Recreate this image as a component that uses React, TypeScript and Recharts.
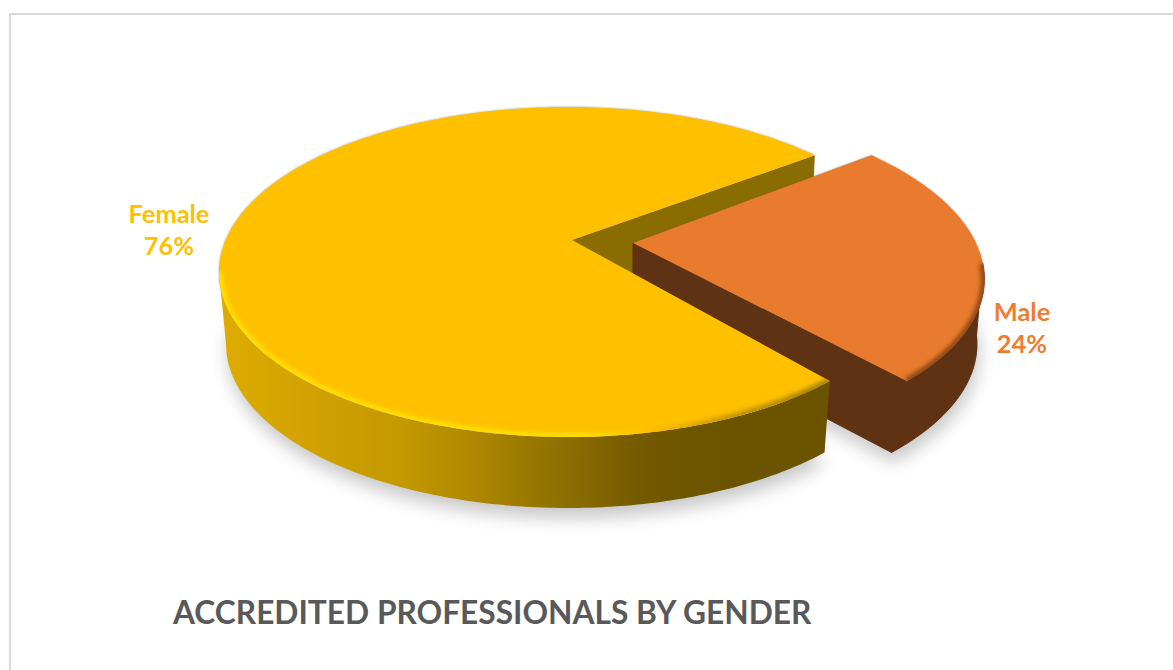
import { PieChart, Pie } from "recharts";

const categories = ["Female", "Male"];
const shares = [76, 24];
const chartData = categories.map((name, i) => ({ name, value: shares[i] }));

const TITLE = "ACCREDITED PROFESSIONALS BY GENDER";

// squashed 3d look: Pie gives the angles, we project them on an ellipse
const CX = 568;
const CY = 272;
const RX = 349;
const RY = 165;
const BOTTOM_RX = 342;
const BOTTOM_RY = 164;
const BOTTOM_DY = 72;
const MALE_SHIFT = 67;
const MALE_SHEAR = 0.09;

// walk along the rim one degree at a time
function trace(fn: (deg: number) => number[], from: number, to: number) {
  const steps = Math.max(1, Math.ceil(Math.abs(to - from)));
  const parts: string[] = [];
  for (let i = 0; i <= steps; i++) {
    const p = fn(from + ((to - from) * i) / steps);
    parts.push(`${p[0]} ${p[1]}`);
  }
  return parts.join(" L ");
}

function sliceGeometry(props: any) {
  const isMale = props.name === "Male";
  const cx = props.cx + (isMale ? MALE_SHIFT : 0);
  const cy = props.cy;
  const start = props.startAngle;
  const end = props.endAngle;
  const shear = isMale ? MALE_SHEAR : 0;
  const apex = isMale ? [cx - 2, cy - 29] : [cx + 4, cy - 32];
  const top = (deg: number) => {
    const a = (deg * Math.PI) / 180;
    return [cx + RX * Math.cos(a) - shear * RY * Math.sin(a), cy - RY * Math.sin(a)];
  };
  const bot = (deg: number) => {
    const a = (deg * Math.PI) / 180;
    return [cx + BOTTOM_RX * Math.cos(a), cy + BOTTOM_DY - BOTTOM_RY * Math.sin(a)];
  };
  const topPath = `M ${apex} L ${trace(top, start, end)} Z`;
  // only the part of the wall that faces the viewer
  const sideFrom = isMale ? 363 : 180;
  const sideTo = isMale ? start : end;
  const sidePath = `M ${trace(top, sideFrom, sideTo)} L ${trace(bot, sideTo, sideFrom)} Z`;
  const rimPath = `M ${trace(top, sideFrom, sideTo)}`;
  const basePath = `M ${apex[0]} ${apex[1] + 74} L ${trace(bot, start, end)} Z`;
  return {
    isMale,
    apex,
    s: top(start),
    e: top(end),
    baseStart: bot(start),
    topPath,
    sidePath,
    rimPath,
    basePath,
  };
}

function BackLayer(props: any) {
  const g = sliceGeometry(props);
  return (
    <g>
      <path d={g.basePath} fill="#000" opacity={0.22} filter="url(#softShadow)" transform="translate(2 10)" />
      <path d={g.topPath} fill="#555" opacity={0.5} filter="url(#rimShadow)" />
      {!g.isMale && (
        <path
          d={`M ${g.apex} L ${g.s} L ${g.s[0] - 3} ${g.s[1] + 72} L ${g.apex[0]} ${g.apex[1] + 72} Z`}
          fill="#8A6D00"
        />
      )}
    </g>
  );
}

function FaceLayer(props: any) {
  const g = sliceGeometry(props);
  const clipId = g.isMale ? "clipMale" : "clipFemale";
  return (
    <g>
      <defs>
        <clipPath id={clipId}>
          <path d={g.topPath} />
        </clipPath>
      </defs>
      {g.isMale && (
        <path
          d={`M ${g.apex} L ${g.s} L ${g.baseStart} L ${g.apex[0]} ${g.apex[1] + 74} Z`}
          fill="#5F3213"
          stroke="#5F3213"
          strokeWidth={1}
        />
      )}
      <path
        d={g.sidePath}
        fill={g.isMale ? "#5F3213" : "url(#femaleSide)"}
        stroke={g.isMale ? "#5F3213" : "none"}
        strokeWidth={1}
      />
      <path d={g.topPath} fill={g.isMale ? "#E87B2E" : "#FFC000"} />
      <g clipPath={`url(#${clipId})`}>
        <path
          d={g.rimPath}
          fill="none"
          stroke={g.isMale ? "#8A4617" : "url(#femaleRim)"}
          strokeWidth={g.isMale ? 7 : 8}
          filter="url(#rimBlur)"
        />
      </g>
    </g>
  );
}

function renderBack(props: any) {
  return <BackLayer {...props} />;
}

// female wall behind the male slice, female front over it
function renderMale(props: any) {
  return props.name === "Male" ? <FaceLayer {...props} /> : <g />;
}

function renderFemale(props: any) {
  return props.name === "Female" ? <FaceLayer {...props} /> : <g />;
}

function renderLabel(props: any) {
  const isMale = props.name === "Male";
  const x = isMale ? props.cx + MALE_SHIFT + RX + 38 : props.cx - RX - 50;
  const y = isMale ? 321 : 223;
  return (
    <text
      x={x}
      y={y}
      textAnchor="middle"
      fill={isMale ? "#ED7D31" : "#FFC000"}
      fontFamily="Lato"
      fontWeight={700}
      fontSize={25.4}
    >
      <tspan x={x}>{props.name}</tspan>
      <tspan x={x} dy={32}>
        {props.value}%
      </tspan>
    </text>
  );
}

const pieProps = {
  data: chartData,
  dataKey: "value",
  nameKey: "name",
  cx: CX,
  cy: CY,
  outerRadius: RX,
  startAngle: 45,
  endAngle: 405,
  paddingAngle: 0,
  stroke: "none",
  isAnimationActive: false,
};

export default function App() {
  return (
    <div style={{ position: "fixed", left: 0, top: 0, width: 1173, height: 670, background: "#fff", overflow: "hidden" }}>
      <div
        style={{
          position: "absolute",
          left: 9,
          top: 13,
          width: 1200,
          height: 700,
          border: "2px solid #D9D9D9",
        }}
      />
      <div style={{ position: "absolute", left: 0, top: 0 }}>
        <PieChart width={1173} height={670} margin={{ top: 0, right: 0, bottom: 0, left: 0 }}>
          <defs>
            <linearGradient id="femaleSide" gradientUnits="userSpaceOnUse" x1={226} y1={0} x2={830} y2={0}>
              <stop offset="0%" stopColor="#DDAB00" />
              <stop offset="29%" stopColor="#C49900" />
              <stop offset="44%" stopColor="#A88300" />
              <stop offset="55%" stopColor="#8F7000" />
              <stop offset="69%" stopColor="#735900" />
              <stop offset="82%" stopColor="#6B5300" />
              <stop offset="100%" stopColor="#6B5300" />
            </linearGradient>
            <linearGradient id="femaleRim" gradientUnits="userSpaceOnUse" x1={219} y1={0} x2={830} y2={0}>
              <stop offset="0%" stopColor="#FFE000" />
              <stop offset="60%" stopColor="#FFE000" />
              <stop offset="70%" stopColor="#FFC000" />
              <stop offset="85%" stopColor="#C09200" />
              <stop offset="100%" stopColor="#A88200" />
            </linearGradient>
            <filter id="softShadow" x="-10%" y="-10%" width="120%" height="120%">
              <feGaussianBlur stdDeviation="9" />
            </filter>
            <filter id="rimShadow" x="-5%" y="-5%" width="110%" height="110%">
              <feGaussianBlur stdDeviation="1" />
            </filter>
            <filter id="rimBlur" x="-5%" y="-5%" width="110%" height="110%">
              <feGaussianBlur stdDeviation="2.2" />
            </filter>
          </defs>
          <Pie {...pieProps} shape={renderBack} />
          <Pie {...pieProps} shape={renderMale} />
          <Pie {...pieProps} shape={renderFemale} label={renderLabel} labelLine={false} />
          <text x={173} y={624} fill="#595959" fontFamily="Lato" fontWeight={700} fontSize={31.7}>
            {TITLE}
          </text>
        </PieChart>
      </div>
    </div>
  );
}
